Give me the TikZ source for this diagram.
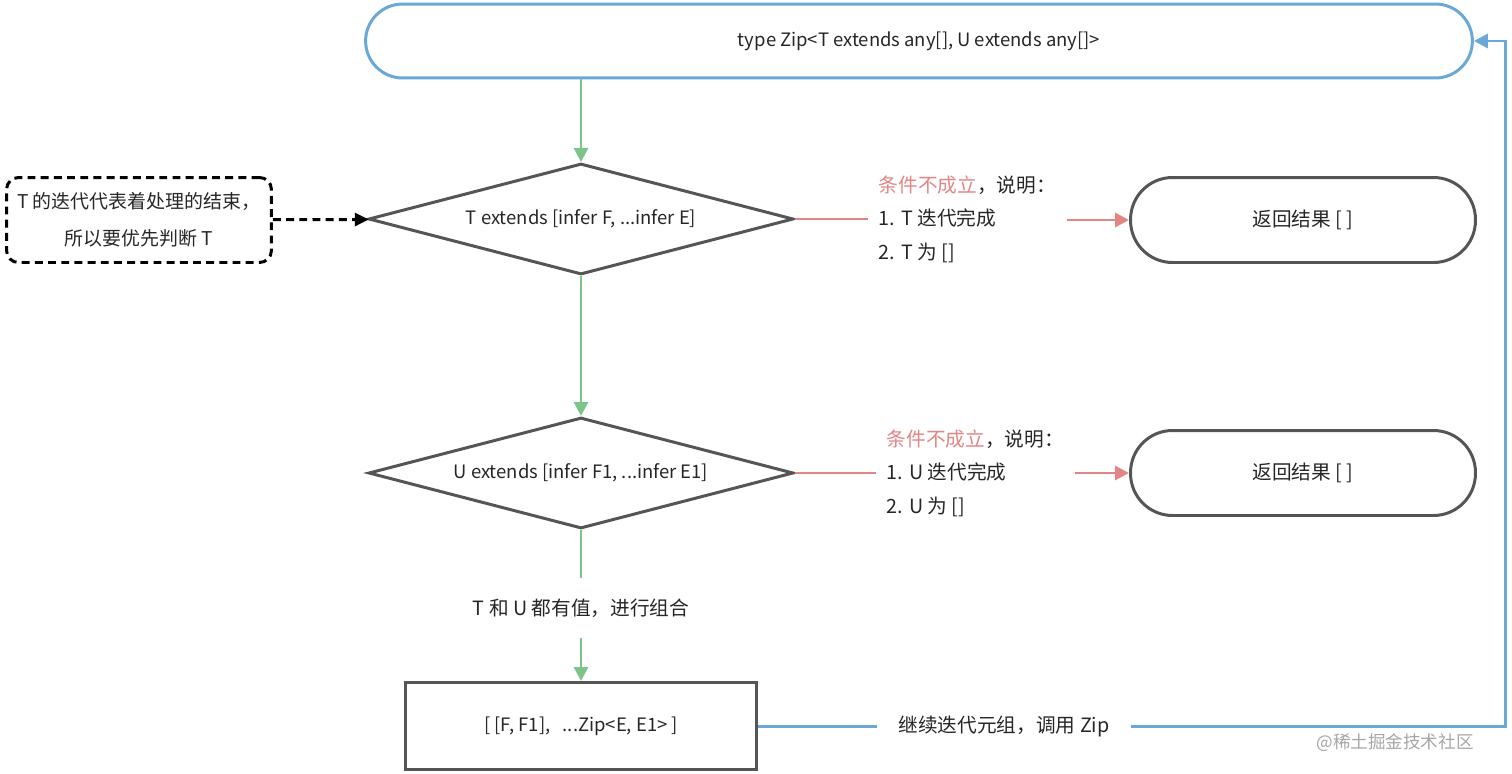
\documentclass[tikz,border=0pt]{standalone}
\usepackage{fontspec}
\setmainfont{Noto Sans CJK SC}
\usetikzlibrary{shapes.geometric,arrows.meta}
\definecolor{flowgreen}{HTML}{7DC48A}
\definecolor{flowred}{HTML}{E38585}
\definecolor{flowblue}{HTML}{6AA8D8}
\definecolor{flowgray}{HTML}{555555}
\definecolor{flowtext}{HTML}{262626}
\tikzset{
  every node/.style={font=\fontsize{11.2}{19}\selectfont, text=flowtext},
  latin/.style={font=\fontsize{10.5}{19}\selectfont},
  tip/.style={-{Triangle[length=0.28cm,width=0.28cm]}},
  startbox/.style={latin, draw=flowblue, line width=1.7pt, rounded corners=0.74cm,
    minimum width=22.14cm, minimum height=1.48cm},
  check/.style={latin, draw=flowgray, line width=1.7pt, diamond, aspect=3.8, inner sep=1pt,
    minimum width=8.5cm, minimum height=2.22cm},
  endbox/.style={draw=flowgray, line width=1.7pt, rounded corners=0.84cm,
    minimum width=6.9cm, minimum height=1.7cm},
  stepbox/.style={latin, draw=flowgray, line width=1.7pt, minimum width=7.02cm, minimum height=1.74cm},
  notebox/.style={draw=black, line width=1.7pt, dash pattern=on 4.5pt off 3pt, rounded corners=0.24cm,
    minimum width=5.3cm, minimum height=1.7cm, align=center,
    font=\fontsize{10.8}{21}\selectfont},
  reason/.style={align=left, inner sep=6pt, anchor=west},
  greenline/.style={draw=flowgreen, line width=1.7pt},
  redline/.style={draw=flowred, line width=1.7pt},
  blueline/.style={draw=flowblue, line width=1.7pt}
}
\begin{document}
\begin{tikzpicture}[x=0.02cm, y=-0.02cm]
\useasboundingbox (0,0) rectangle (1512,774);
\node[startbox] (zip) at (919,41) {type Zip<T extends any[], U extends any[]>};
\node[check] (checkT) at (581,219) {T extends [infer F, ...infer E]};
\node[check] (checkU) at (581,473) {U extends [infer F1, ...infer E1]};
\node[stepbox] (merge) at (581,726) {[ [F, F1], \ \ ...Zip<E, E1> ]};
\node[notebox] (note) at (139,220) {T 的迭代代表着处理的结束，\\所以要优先判断 T};
\node[endbox] (doneT) at (1303,220) {返回结果 [ ]};
\node[endbox] (doneU) at (1303,473) {返回结果 [ ]};
\node[reason] (whyT) at (868,219) {\textcolor{flowred}{条件不成立}，说明：\\1. T 迭代完成\\2. T 为 []};
\node[reason] (whyU) at (876,473) {\textcolor{flowred}{条件不成立}，说明：\\1. U 迭代完成\\2. U 为 []};
\node[inner sep=0pt, minimum height=1.2cm] (both) at (581,608) {T 和 U 都有值，进行组合};
\node[inner sep=12pt] (again) at (1004,726) {继续迭代元组，调用 Zip};
\node[text=gray!70, font=\fontsize{10}{12}\selectfont] (mark) at (1395,743) {@稀土掘金技术社区};
\coordinate (back) at (1505,726);

\draw[greenline, tip] (checkT.north |- zip.south) -- (checkT.north);
\draw[greenline, tip] (checkT) -- (checkU);
\draw[greenline] (checkU) -- (both);
\draw[greenline, tip] (both) -- (merge);
\draw[line width=1.7pt, dash pattern=on 4.5pt off 3pt, -{Triangle[length=0.28cm,width=0.26cm]}] (note) -- (checkT);
\draw[redline] (checkT.east) -- (whyT.west |- checkT.east);
\draw[redline, tip] (whyT.east |- doneT.west) -- (doneT.west);
\draw[redline] (checkU.east) -- (whyU.west |- checkU.east);
\draw[redline, tip] (whyU.east |- doneU.west) -- (doneU.west);
\draw[blueline] (merge.east) -- (again.west);
\draw[blueline, tip] (again.east) -- (back) |- (zip.east);
\end{tikzpicture}
\end{document}
